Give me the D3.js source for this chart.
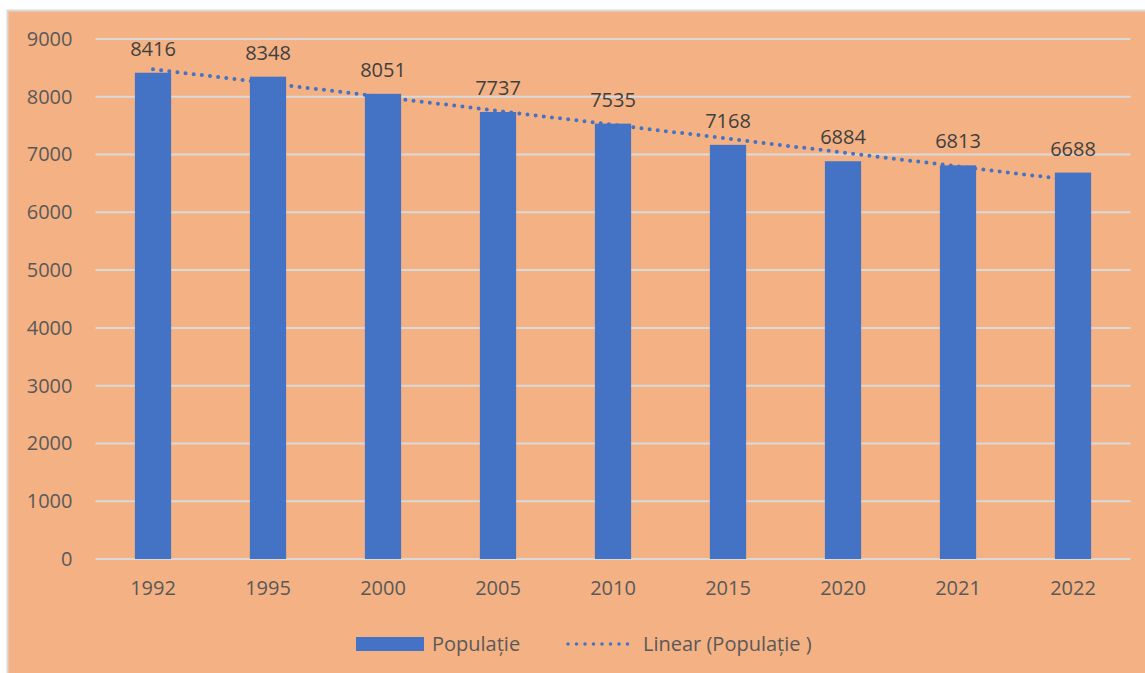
<!DOCTYPE html>
<html>
<head>
<meta charset="utf-8">
<script src="https://cdn.jsdelivr.net/npm/d3@7"></script>
<style>
  body { margin: 0; background: #fff; }
  text { font-family: "Open Sans", "Noto Sans", sans-serif; }
</style>
</head>
<body>
<div id="chart"></div>
<script>
// Chart data
const years = ["1992", "1995", "2000", "2005", "2010", "2015", "2020", "2021", "2022"];
const population = [8416, 8348, 8051, 7737, 7535, 7168, 6884, 6813, 6688];
const yTicks = [0, 1000, 2000, 3000, 4000, 5000, 6000, 7000, 8000, 9000];

const width = 1145, height = 673;
const margin = { left: 95.5, right: 14.5, top: 39, bottom: 114 };

const svg = d3.select("#chart")
  .append("svg")
  .attr("width", width)
  .attr("height", height);

// Chart background
svg.append("rect")
  .attr("x", 7.5).attr("y", 10.5)
  .attr("width", width).attr("height", height)
  .attr("fill", "#F4B183")
  .attr("stroke", "#D9D9D9")
  .attr("stroke-width", 2);

const x = d3.scaleBand()
  .domain(years)
  .range([margin.left, width - margin.right])
  .paddingInner(0.685)
  .paddingOuter(0.3425);

const y = d3.scaleLinear()
  .domain([0, 9000])
  .range([height - margin.bottom, margin.top]);

// Gridlines
svg.append("g")
  .selectAll("line")
  .data(yTicks)
  .enter()
  .append("line")
  .attr("x1", margin.left)
  .attr("x2", width - margin.right)
  .attr("y1", d => y(d))
  .attr("y2", d => y(d))
  .attr("stroke", "#D9D9D9")
  .attr("stroke-width", 2);

// Y axis labels
const yAxis = svg.append("g")
  .attr("transform", `translate(${margin.left - 23},0)`)
  .call(d3.axisLeft(y).tickValues(yTicks).tickFormat(d3.format("d")).tickSize(0).tickPadding(0));
yAxis.select(".domain").remove();
yAxis.selectAll("text")
  .attr("font-family", "'Open Sans', sans-serif")
  .attr("font-size", 20)
  .attr("fill", "#595959");

// X axis labels
const xAxis = svg.append("g")
  .attr("transform", `translate(0,${height - margin.bottom + 22})`)
  .call(d3.axisBottom(x).tickSize(0).tickPadding(0));
xAxis.select(".domain").remove();
xAxis.selectAll("text")
  .attr("font-family", "'Open Sans', sans-serif")
  .attr("font-size", 20)
  .attr("fill", "#595959");

// Bars
svg.append("g")
  .selectAll("rect")
  .data(population)
  .enter()
  .append("rect")
  .attr("x", (d, i) => x(years[i]))
  .attr("y", d => y(d))
  .attr("width", x.bandwidth())
  .attr("height", d => y(0) - y(d))
  .attr("fill", "#4472C4");

// Data labels
svg.append("g")
  .selectAll("text")
  .data(population)
  .enter()
  .append("text")
  .attr("x", (d, i) => x(years[i]) + x.bandwidth() / 2)
  .attr("y", d => y(d) - 17)
  .attr("text-anchor", "middle")
  .attr("font-size", 20)
  .attr("fill", "#404040")
  .text(d => d);

// Linear trendline (least squares over category index)
const n = population.length;
const meanX = (n - 1) / 2;
const meanY = d3.mean(population);
let sxy = 0, sxx = 0;
population.forEach((v, i) => { sxy += (i - meanX) * (v - meanY); sxx += (i - meanX) ** 2; });
const slope = sxy / sxx;
const intercept = meanY - slope * meanX;
const cx = i => x(years[i]) + x.bandwidth() / 2;

svg.append("line")
  .attr("x1", cx(0))
  .attr("y1", y(intercept))
  .attr("x2", cx(n - 1))
  .attr("y2", y(intercept + slope * (n - 1)))
  .attr("stroke", "#4472C4")
  .attr("stroke-width", 4)
  .attr("stroke-linecap", "round")
  .attr("stroke-dasharray", "0 8.2");

// Legend
const legend = svg.append("g").attr("transform", "translate(0,644)");
legend.append("rect")
  .attr("x", 356).attr("y", -7)
  .attr("width", 68).attr("height", 14)
  .attr("fill", "#4472C4");
legend.append("text")
  .attr("x", 432).attr("y", 7)
  .attr("font-size", 20)
  .attr("fill", "#595959")
  .text("Populație");
legend.append("line")
  .attr("x1", 568).attr("x2", 636)
  .attr("y1", 0).attr("y2", 0)
  .attr("stroke", "#4472C4")
  .attr("stroke-width", 3.5)
  .attr("stroke-linecap", "round")
  .attr("stroke-dasharray", "0 8.5");
legend.append("text")
  .attr("x", 643).attr("y", 7)
  .attr("font-size", 20)
  .attr("fill", "#595959")
  .text("Linear (Populație )");
</script>
</body>
</html>
